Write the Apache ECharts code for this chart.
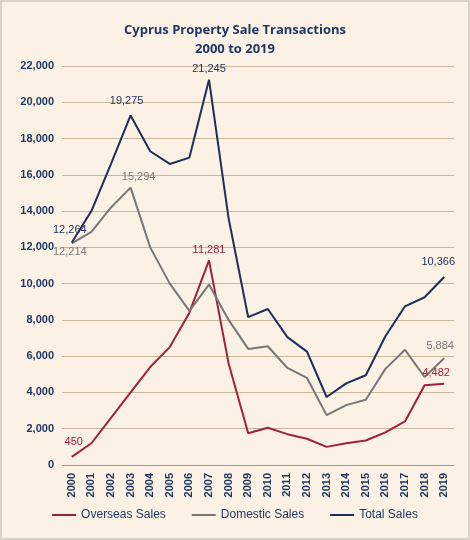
<!DOCTYPE html><html><head><meta charset="utf-8"><script src="https://cdn.jsdelivr.net/npm/echarts@6/dist/echarts.min.js"></script>
<style>html,body{margin:0;padding:0;background:#fff}#c{width:466px;height:536px;border:2px solid #d9d2c8;background:#fbf1e4}</style></head><body><div id="c"></div><script>
var years=['2000','2001','2002','2003','2004','2005','2006','2007','2008','2009','2010','2011','2012','2013','2014','2015','2016','2017','2018','2019'];
var overseas=[450,1200,2600,4000,5400,6500,8400,11281,5600,1750,2050,1700,1450,1000,1200,1350,1800,2400,4400,4482];
var domestic=[12214,12850,14200,15294,12000,10000,8500,9950,8000,6400,6550,5350,4800,2750,3300,3600,5300,6350,4850,5884];
var total=[12264,14000,16600,19275,17300,16600,16950,21245,13600,8150,8600,7050,6250,3750,4500,4950,7100,8750,9250,10366];
var ch=echarts.init(document.getElementById('c'));
function mk(name,data,color,labels){
  return {name:name,type:'line',symbol:'circle',symbolSize:0.1,showSymbol:true,lineStyle:{color:color,width:2},itemStyle:{color:color},
  data:data.map(function(v,i){var o={value:v};var l=labels[i];
    if(l){o.label={show:true,position:l.pos,offset:l.off||[0,0],color:color,fontSize:11,fontFamily:'Liberation Sans',formatter:function(p){return p.value.toLocaleString('en-US');}};}
    return o;})};
}
ch.setOption({
title:{text:'Cyprus Property Sale Transactions\n2000 to 2019',left:'center',top:14,textStyle:{color:'#1f3864',fontSize:13,fontWeight:'bold',fontFamily:'Open Sans',lineHeight:19}},
grid:{left:60,right:14,top:64,bottom:73},
legend:{bottom:12,itemWidth:24,itemHeight:2,itemGap:26,icon:'rect',textStyle:{color:'#1f3864',fontSize:12,fontFamily:'Liberation Sans'},data:['Overseas Sales','Domestic Sales','Total Sales']},
xAxis:{type:'category',data:years,boundaryGap:true,axisLine:{lineStyle:{color:'#999'}},axisTick:{show:false},axisLabel:{rotate:90,color:'#1f3864',fontWeight:'bold',fontSize:11,fontFamily:'Liberation Sans'}},
yAxis:{type:'value',min:0,max:22000,interval:2000,axisLine:{show:false},axisTick:{show:false},splitLine:{lineStyle:{color:'#c9b99c'}},
axisLabel:{color:'#1f3864',fontWeight:'bold',fontSize:11,fontFamily:'Liberation Sans',formatter:function(v){return v.toLocaleString('en-US');}}},
series:[
 mk('Overseas Sales',overseas,'#a0213f',{0:{pos:'top',off:[2,-4]},7:{pos:'top'},19:{pos:'top',off:[-8,0]}}),
 mk('Domestic Sales',domestic,'#777777',{0:{pos:'bottom',off:[-2,-2]},3:{pos:'top',off:[8,0]},19:{pos:'top',off:[-4,-2]}}),
 mk('Total Sales',total,'#1f2d5a',{0:{pos:'top',off:[-2,-2]},3:{pos:'top',off:[-4,-4]},7:{pos:'top'},19:{pos:'top',off:[-6,-4]}})]
});
</script></body></html>
